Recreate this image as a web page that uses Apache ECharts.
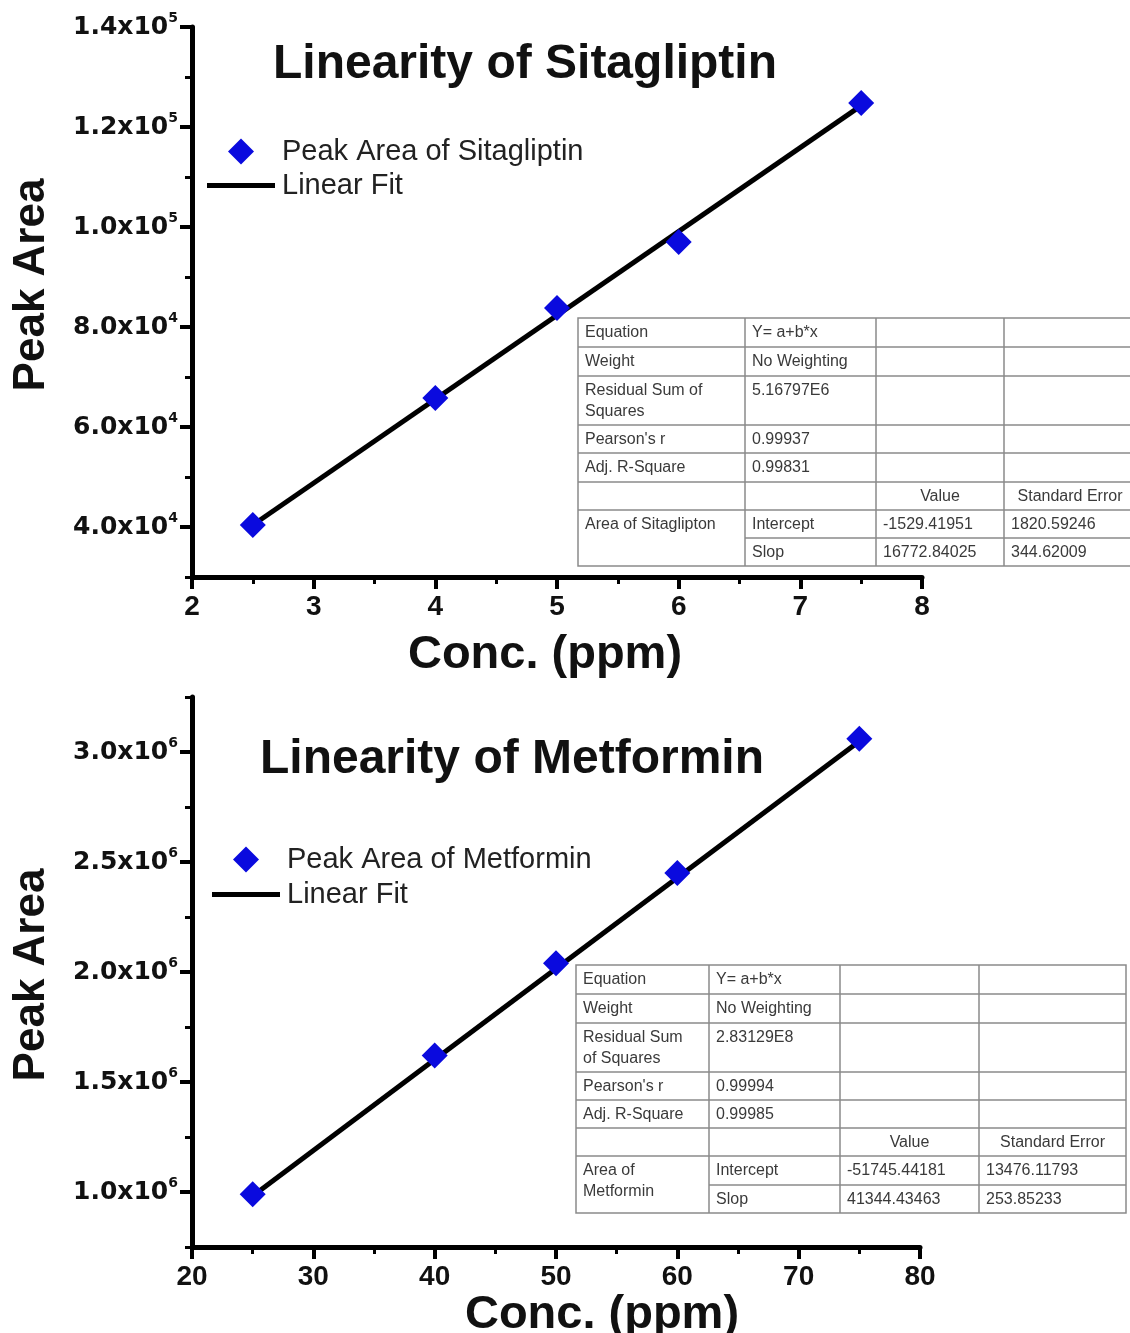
<!DOCTYPE html>
<html>
<head>
<meta charset="utf-8">
<script src="https://cdn.jsdelivr.net/npm/echarts@6/dist/echarts.min.js"></script>
<style>
html,body{margin:0;padding:0;background:#fff;overflow:hidden;}
#c{width:1130px;height:1333px;}
</style>
</head>
<body>
<div id="c"></div>
<script>
// ---- data ----
var sitaConc = [2.5, 4, 5, 6, 7.5];
var sitaArea = [40400, 65800, 83800, 97000, 124800];
var sitaFitConc = [2.5, 7.5];
var sitaFitArea = [40402, 124267];
var sitaYTicks = [40000, 60000, 80000, 100000, 120000, 140000];

var metConc = [25, 40, 50, 60, 75];
var metArea = [990000, 1620000, 2040000, 2450000, 3060000];
var metFitConc = [25, 75];
var metFitArea = [981866, 3049087];
var metYTicks = [1000000, 1500000, 2000000, 2500000, 3000000];

var sitaTable = [
  ['Equation', 'Y= a+b*x', '', ''],
  ['Weight', 'No Weighting', '', ''],
  ['Residual Sum of\nSquares', '5.16797E6', '', ''],
  ["Pearson's r", '0.99937', '', ''],
  ['Adj. R-Square', '0.99831', '', ''],
  ['', '', 'Value', 'Standard Error'],
  ['Area of Sitaglipton', 'Intercept', '-1529.41951', '1820.59246'],
  ['', 'Slop', '16772.84025', '344.62009']
];
var metTable = [
  ['Equation', 'Y= a+b*x', '', ''],
  ['Weight', 'No Weighting', '', ''],
  ['Residual Sum\nof Squares', '2.83129E8', '', ''],
  ["Pearson's r", '0.99994', '', ''],
  ['Adj. R-Square', '0.99985', '', ''],
  ['', '', 'Value', 'Standard Error'],
  ['Area of\nMetformin', 'Intercept', '-51745.44181', '13476.11793'],
  ['', 'Slop', '41344.43463', '253.85233']
];

function zip(a, b) { return a.map(function (v, i) { return [v, b[i]]; }); }

var chart = echarts.init(document.getElementById('c'), null, {renderer: 'canvas'});

var F = 'Liberation Sans, Arial, sans-serif';
var BLUE = '#0a0ade';
var DIAMOND_ICON = 'path://M0,0M68,26M34,0L47,13L34,26L21,13Z';
var LINE_ICON = 'path://M0,0M68,26M0,10.5L68,10.5L68,15.5L0,15.5Z';

function sciLabel(v) {
  var e = Math.floor(Math.log10(v) + 1e-9);
  var m = (v / Math.pow(10, e)).toFixed(1);
  return '{m|' + m + 'x10}{s|' + e + '}';
}

var yRich = {
  m: {fontFamily: 'DejaVu Sans', fontWeight: 'bold', fontSize: 25, color: '#111', lineHeight: 32},
  s: {fontFamily: 'DejaVu Sans', fontWeight: 'bold', fontSize: 14, color: '#111', lineHeight: 14, verticalAlign: 'top'}
};

function makeTable(rows, cols, rowsY) {
  var children = [];
  children.push({type: 'rect', shape: {x: cols[0], y: rowsY[0], width: cols[cols.length-1]-cols[0], height: rowsY[rowsY.length-1]-rowsY[0]}, style: {fill: '#fff', stroke: '#8a8a8a', lineWidth: 1.5}, z: 10});
  for (var c = 1; c < cols.length - 1; c++) {
    children.push({type: 'line', shape: {x1: cols[c], y1: rowsY[0], x2: cols[c], y2: rowsY[rowsY.length-1]}, style: {stroke: '#8a8a8a', lineWidth: 1.5}, z: 11});
  }
  for (var r = 1; r < rowsY.length - 1; r++) {
    var x1 = (r === rowsY.length - 2) ? cols[1] : cols[0];
    children.push({type: 'line', shape: {x1: x1, y1: rowsY[r], x2: cols[cols.length-1], y2: rowsY[r]}, style: {stroke: '#8a8a8a', lineWidth: 1.5}, z: 11});
  }
  rows.forEach(function (row, ri) {
    row.forEach(function (txt, ci) {
      if (!txt) return;
      var centered = (ri === 5);
      children.push({
        type: 'text', z: 12,
        style: {
          text: txt,
          x: centered ? (cols[ci] + cols[ci+1]) / 2 : cols[ci] + 7,
          y: rowsY[ri] + 4,
          textAlign: centered ? 'center' : 'left',
          textVerticalAlign: 'top',
          fontFamily: F, fontSize: 16, lineHeight: 21, fill: '#3a3a3a'
        }
      });
    });
  });
  return {type: 'group', children: children};
}

function xAxisCfg(gi, min, max, interval, name, gap, pad) {
  return {
    type: 'value', gridIndex: gi, min: min, max: max, interval: interval,
    position: 'bottom',
    axisLine: {show: true, onZero: false, lineStyle: {color: '#000', width: 5}},
    axisTick: {show: true, inside: false, length: 12, lineStyle: {color: '#000', width: 4}},
    minorTick: {show: true, splitNumber: 2, length: 7, lineStyle: {color: '#000', width: 3}},
    splitLine: {show: false},
    axisLabel: {margin: 16, fontFamily: F, fontWeight: 'bold', fontSize: 28, color: '#111'},
    name: name, nameLocation: 'middle', nameGap: gap,
    nameTextStyle: {fontFamily: F, fontWeight: 'bold', fontSize: 47, color: '#111', padding: pad}
  };
}

function yAxisMinor(gi, min, max, interval, pad) {
  return {
    type: 'value', gridIndex: gi, min: min, max: max, interval: interval,
    position: 'left', offset: 0,
    axisLine: {show: true, onZero: false, lineStyle: {color: '#000', width: 5}},
    axisTick: {show: true, length: 7, lineStyle: {color: '#000', width: 3}},
    splitLine: {show: false},
    axisLabel: {show: false},
    name: 'Peak Area', nameLocation: 'middle', nameRotate: 90, nameGap: 138,
    nameTextStyle: {fontFamily: F, fontWeight: 'bold', fontSize: 44, color: '#111', padding: pad}
  };
}
function yAxisMajor(gi, min, max, interval, ticks) {
  return {
    type: 'value', gridIndex: gi, min: min, max: max, interval: interval,
    position: 'left', offset: 0,
    axisLine: {show: false},
    axisTick: {show: true, length: 12, customValues: ticks, lineStyle: {color: '#000', width: 4}},
    splitLine: {show: false},
    axisLabel: {show: true, customValues: ticks, margin: 14, formatter: sciLabel, rich: yRich}
  };
}

var option = {
  backgroundColor: '#fff',
  animation: false,
  title: [
    {text: 'Linearity of Sitagliptin', left: 520, top: 36, textAlign: 'center',
     textStyle: {fontFamily: F, fontWeight: 'bold', fontSize: 48, color: '#111'}},
    {text: 'Linearity of Metformin', left: 507, top: 731, textAlign: 'center',
     textStyle: {fontFamily: F, fontWeight: 'bold', fontSize: 48, color: '#111'}}
  ],
  legend: [
    {orient: 'vertical', left: 207, top: 137, padding: 0, itemWidth: 68, itemHeight: 26, itemGap: 5,
     data: [{name: 'Peak Area of Sitagliptin', icon: DIAMOND_ICON}, {name: 'Linear Fit ', icon: LINE_ICON}],
     textStyle: {fontFamily: F, fontSize: 29, color: '#222', padding: [0, 0, 0, 2]}},
    {orient: 'vertical', left: 212, top: 845, padding: 0, itemWidth: 70, itemHeight: 26, itemGap: 6,
     data: [{name: 'Peak Area of Metformin', icon: DIAMOND_ICON}, {name: 'Linear Fit', icon: LINE_ICON}],
     textStyle: {fontFamily: F, fontSize: 29, color: '#222', padding: [0, 0, 0, 1]}}
  ],
  grid: [
    {left: 192, top: 27, width: 730, height: 550, outerBoundsMode: 'none', containLabel: false},
    {left: 192, top: 697, width: 728, height: 550, outerBoundsMode: 'none', containLabel: false}
  ],
  xAxis: [
    xAxisCfg(0, 2, 8, 1, 'Conc. (ppm)', 55, [0, 24, 0, 0]),
    xAxisCfg(1, 20, 80, 10, 'Conc. (ppm)', 40, [0, 0, 0, 92])
  ],
  yAxis: [
    yAxisMinor(0, 30000, 140000, 10000, [0, 0, 0, 34]),
    yAxisMajor(0, 30000, 140000, 10000, sitaYTicks),
    yAxisMinor(1, 750000, 3250000, 250000, [0, 6, 0, 0]),
    yAxisMajor(1, 750000, 3250000, 250000, metYTicks)
  ],
  series: [
    {name: 'Linear Fit ', type: 'line', xAxisIndex: 0, yAxisIndex: 0, data: zip(sitaFitConc, sitaFitArea),
     symbol: 'none', lineStyle: {color: '#000', width: 5}, itemStyle: {color: '#000'}, z: 2},
    {name: 'Peak Area of Sitagliptin', type: 'scatter', xAxisIndex: 0, yAxisIndex: 0, data: zip(sitaConc, sitaArea),
     symbol: 'diamond', symbolSize: 26, itemStyle: {color: BLUE, opacity: 1}, z: 3},
    {name: 'Linear Fit', type: 'line', xAxisIndex: 1, yAxisIndex: 2, data: zip(metFitConc, metFitArea),
     symbol: 'none', lineStyle: {color: '#000', width: 5}, itemStyle: {color: '#000'}, z: 2},
    {name: 'Peak Area of Metformin', type: 'scatter', xAxisIndex: 1, yAxisIndex: 2, data: zip(metConc, metArea),
     symbol: 'diamond', symbolSize: 26, itemStyle: {color: BLUE, opacity: 1}, z: 3}
  ],
  graphic: [
    makeTable(sitaTable, [578, 745, 876, 1004, 1136], [318, 347, 376, 425, 453, 482, 510, 538, 566]),
    makeTable(metTable, [576, 709, 840, 979, 1126], [965, 994, 1023, 1072, 1100, 1128, 1156, 1185, 1213])
  ]
};
chart.setOption(option);
</script>
</body>
</html>
